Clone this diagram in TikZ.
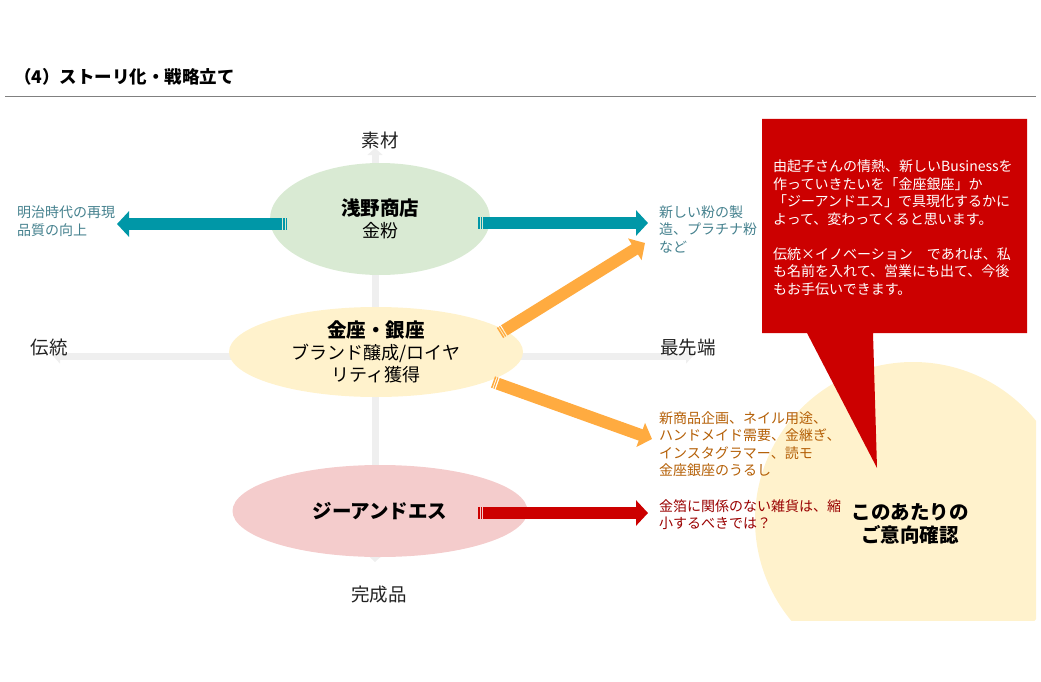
\documentclass[tikz,border=0pt]{standalone}
\usepackage{fontspec}
\setmainfont{Noto Sans CJK JP}
\usetikzlibrary{shapes.geometric, arrows.meta, calc}

\definecolor{tealarrow}{HTML}{0097A7}
\definecolor{tealtext}{HTML}{45818E}
\definecolor{orangearrow}{HTML}{FFAB40}
\definecolor{orangetext}{HTML}{B45F06}
\definecolor{redarrow}{HTML}{CC0000}
\definecolor{redtext}{HTML}{990000}
\definecolor{zonegreen}{HTML}{D9EAD3}
\definecolor{zonecream}{HTML}{FFF2CC}
\definecolor{zonepink}{HTML}{F4CCCC}
\definecolor{axisgray}{HTML}{EFEFEF}
\definecolor{labeltext}{HTML}{222222}

\begin{document}
\begin{tikzpicture}[x=1pt, y=-1pt,
    zone/.style={ellipse, inner sep=0pt, align=center, text=black, font=\fontsize{18}{22}\selectfont},
    axis/.style={line width=7pt, axisgray, {Triangle[length=7pt, width=15pt]}-{Triangle[length=7pt, width=15pt]}},
    axislabel/.style={font=\fontsize{18.5}{22}\selectfont, text=labeltext},
    note/.style={align=left, anchor=west, inner sep=0pt, font=\fontsize{14}{17.5}\selectfont},
    body/.style={line width=12pt, -{Triangle[length=12pt, width=25pt]}},
    stripes/.style={line width=12pt, dash pattern=on 1.5pt off 1pt on 1.2pt off 10pt}
    ]

    \useasboundingbox (0,0) rectangle (1041,682);

    % Title
    \node[anchor=west, inner sep=0pt, font=\bfseries\fontsize{17.5}{20}\selectfont] (title) at (14,77) {（4）ストーリ化・戦略立て};
    \coordinate (ruleL) at (5,96);
    \coordinate (ruleR) at (1036,96);
    \draw[gray, line width=0.8pt] (ruleL) -- (ruleR);

    % Focus area
    \begin{scope}
        \clip (0,0) rectangle (1036,620);
        \fill[zonecream] (913,520) circle (158pt);
    \end{scope}

    % Define axes
    \coordinate (top) at (375,148);
    \coordinate (bottom) at (375,562);
    \coordinate (left) at (53,356);
    \coordinate (right) at (693,356);
    \draw[axis] (top) -- (bottom);
    \draw[axis] (left) -- (right);

    % Define zones
    \node[zone, fill=zonegreen, minimum width=220pt, minimum height=112pt] (asano) at (380,219)
        {{\bfseries\fontsize{19.5}{22}\selectfont 浅野商店}\\金粉};
    \node[zone, fill=zonecream, minimum width=294pt, minimum height=90pt] (ginza) at (376,352)
        {{\bfseries\fontsize{19.5}{22}\selectfont 金座・銀座}\\ブランド醸成/ロイヤ\\リティ獲得};
    \node[zone, fill=zonepink, minimum width=295pt, minimum height=92pt] (gands) at (380,511)
        {{\bfseries\fontsize{19.5}{22}\selectfont ジーアンドエス}};

    % Define arrows
    \coordinate (pastS) at (287,224);
    \coordinate (pastT) at (117,224);
    \coordinate (newS) at (478,223);
    \coordinate (newT) at (648,223);
    \coordinate (upS) at (500,333);
    \coordinate (upT) at (645,243);
    \coordinate (downS) at (493,382);
    \coordinate (downT) at (652,439);
    \coordinate (cutS) at (478,513);
    \coordinate (cutT) at (648,513);
    \foreach \from/\to/\col in {pastS/pastT/tealarrow, newS/newT/tealarrow, upS/upT/orangearrow,
                                downS/downT/orangearrow, cutS/cutT/redarrow}{
        \draw[stripes, \col] (\from) -- ($(\from)!5pt!(\to)$);
        \draw[body, \col] ($(\from)!5pt!(\to)$) -- (\to);
    }

    % Axis labels
    \node[axislabel] (material) at (380,140) {素材};
    \node[axislabel] (tradition) at (49,348) {伝統};
    \node[axislabel] (edge) at (688,348) {最先端};
    \node[axislabel] (product) at (379,595) {完成品};

    % Notes
    \node[note, text=tealtext] (past) at (17,221) {明治時代の再現\\品質の向上};
    \node[note, text=tealtext] (powder) at (659,229) {新しい粉の製\\造、プラチナ粉\\など};
    \node[note, text=orangetext] (ideas) at (659,444) {新商品企画、ネイル用途、\\ハンドメイド需要、金継ぎ、\\インスタグラマー、読モ\\金座銀座のうるし};
    \node[note, text=redtext] (shrink) at (659,514.5) {金箔に関係のない雑貨は、縮\\小するべきでは？};

    % Callout
    \fill[redarrow] (762,119) -- (1027,119) -- (1027,333) -- (873,333) -- (877,468) -- (807,333) -- (762,333) -- cycle;
    \node[note, text=white] (msg) at (773,227.5) {由起子さんの情熱、新しいBusinessを\\作っていきたいを「金座銀座」か\\「ジーアンドエス」で具現化するかに\\よって、変わってくると思います。\\[17.5pt]伝統×イノベーション　であれば、私\\も名前を入れて、営業にも出て、今後\\もお手伝いできます。};
    \node[align=center, inner sep=0pt, font=\bfseries\fontsize{19.5}{23}\selectfont] (check) at (910,523.5) {このあたりの\\ご意向確認};
\end{tikzpicture}
\end{document}
